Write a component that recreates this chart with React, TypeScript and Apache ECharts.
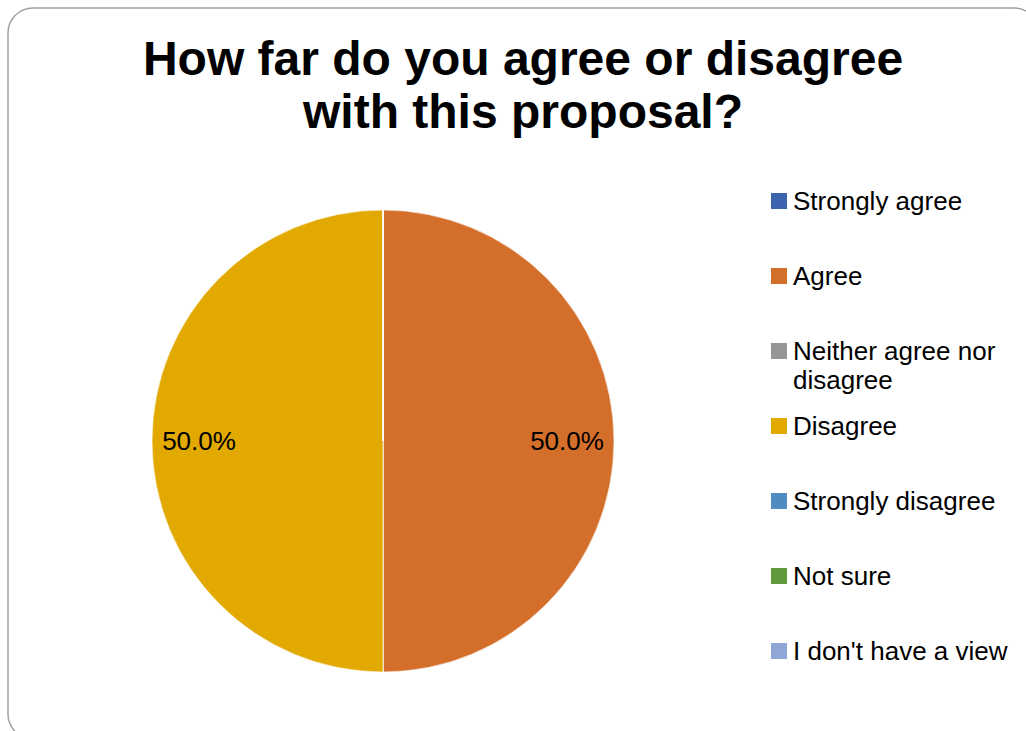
import React, { useEffect, useRef } from "react";
import * as echarts from "echarts";

const titleText = "How far do you agree or disagree\nwith this proposal?";
const categories = [
  "Strongly agree",
  "Agree",
  "Neither agree nor disagree",
  "Disagree",
  "Strongly disagree",
  "Not sure",
  "I don't have a view",
];
const legendLabels = [
  "Strongly agree",
  "Agree",
  "\nNeither agree nor\ndisagree",
  "Disagree",
  "Strongly disagree",
  "Not sure",
  "I don't have a view",
];
const values = [0, 1, 0, 1, 0, 0, 0];
const colors = ["#3D64AE", "#D46F2B", "#959595", "#E2A900", "#4E8BC0", "#5F9A3D", "#90A6D7"];

const FONT = "'Liberation Sans', Arial, sans-serif";

export default function App() {
  const ref = useRef<HTMLDivElement>(null);
  useEffect(() => {
    if (!ref.current) return;
    const chart = echarts.init(ref.current, null, { renderer: "svg" });
    const data = categories.map((name, i) => ({
      name,
      value: values[i],
      itemStyle: { color: colors[i] },
    }));
    const legendCenters = [201, 276, 351, 426, 501, 576, 651];
    const legends = categories.map((name, i) => {
      const multi = legendLabels[i].includes("\n");
      return {
        show: true,
        orient: "vertical",
        left: 769,
        top: multi ? legendCenters[i] - 43.5 : legendCenters[i] - 14.5,
        padding: 0,
        itemWidth: 18,
        itemHeight: 18,
        icon: "rect",
        selectedMode: false,
        formatter: () => legendLabels[i],
        textStyle: {
          fontFamily: FONT,
          fontSize: 26,
          lineHeight: 29,
          color: "#000",
        },
        data: [{ name, icon: "rect", itemStyle: { color: colors[i] } }],
      };
    });
    chart.setOption({
      animation: false,
      backgroundColor: "#fff",
      title: {
        text: titleText,
        left: 523,
        textAlign: "center",
        top: 32,
        padding: 0,
        textStyle: {
          fontFamily: FONT,
          fontSize: 48,
          fontWeight: "bold",
          lineHeight: 53,
          color: "#000",
        },
      },
      legend: legends,
      graphic: [
        {
          type: "rect",
          silent: true,
          shape: { x: 8, y: 8, width: 1031, height: 731, r: 25 },
          style: { fill: "none", stroke: "#a0a0a0", lineWidth: 1.5 },
          z: -10,
        },
      ],
      series: [
        {
          type: "pie",
          center: [383, 441],
          radius: [0, 231],
          startAngle: 90,
          clockwise: true,
          data,
          label: { show: false },
          labelLine: { show: false },
          itemStyle: { borderColor: "#fff", borderWidth: 0.6 },
          emphasis: { disabled: true },
          silent: true,
        },
        {
          type: "pie",
          center: [383, 441],
          radius: [0, 362],
          startAngle: 90,
          clockwise: true,
          data: categories.map((name, i) => ({ name, value: values[i] })),
          itemStyle: { color: "rgba(0,0,0,0)", borderWidth: 0 },
          label: {
            show: true,
            position: "inside",
            fontFamily: FONT,
            fontSize: 26,
            color: "#000",
            formatter: (p: any) => (p.value ? p.percent.toFixed(1) + "%" : ""),
          },
          labelLine: { show: false },
          emphasis: { disabled: true },
          silent: true,
          z: 3,
        },
      ],
    });
    return () => chart.dispose();
  }, []);
  return (
    <div
      ref={ref}
      style={{ position: "absolute", left: 0, top: 0, width: 1026, height: 731 }}
    />
  );
}
